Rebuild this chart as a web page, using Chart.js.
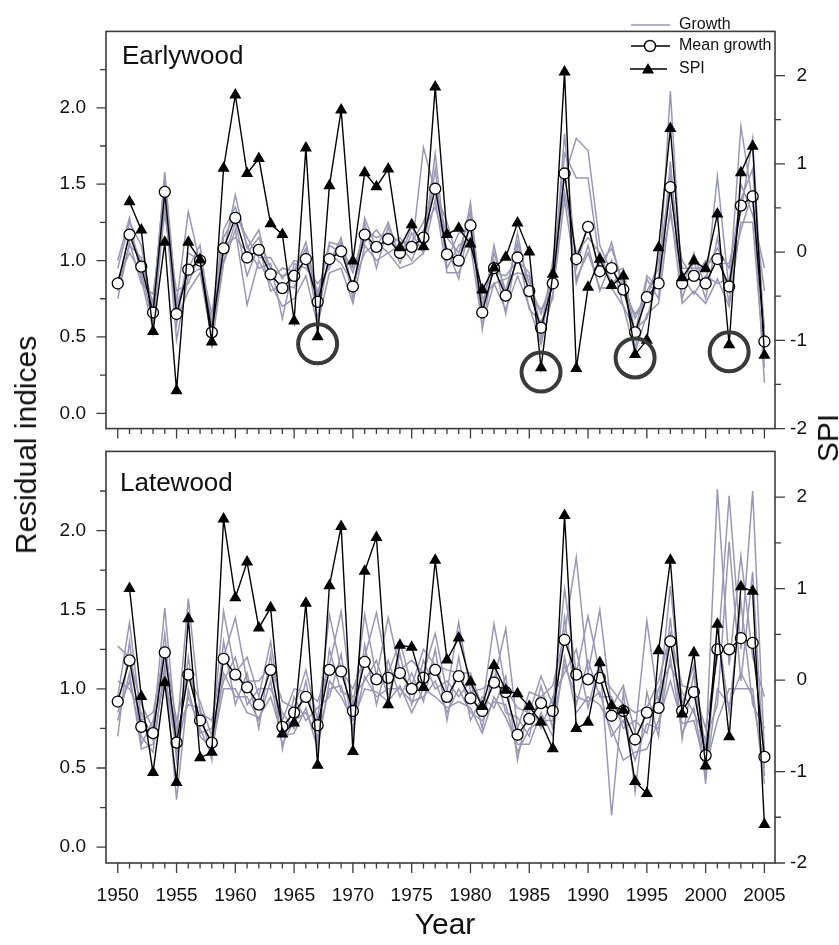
<!DOCTYPE html>
<html>
<head>
<meta charset="utf-8">
<script src="https://cdn.jsdelivr.net/npm/chart.js@4.4.1/dist/chart.umd.min.js"></script>
<style>
  body { margin: 0; background: #fff; }
  #wrap { position: relative; width: 839px; height: 945px; overflow: hidden;
          font-family: 'Liberation Sans', Arial, sans-serif; color: #111; }
  canvas { position: absolute; left: 0; }
  #ewCanvas { top: 0; z-index: 2; }
  #lwCanvas { top: 420px; z-index: 1; }
  .lbl { position: absolute; font-size: 30px; line-height: 30px; white-space: nowrap; z-index: 3; }
  #yTitle { left: 26px; top: 445px; transform: translate(-50%, -50%) rotate(-90deg); }
  #spiTitle { left: 828px; top: 438px; transform: translate(-50%, -50%) rotate(-90deg); }
  #xTitle { left: 345px; width: 200px; text-align: center; top: 909px; }
</style>
</head>
<body>
<div id="wrap">
  <canvas id="lwCanvas" width="839" height="525"></canvas>
  <canvas id="ewCanvas" width="839" height="460"></canvas>
  <div class="lbl" id="yTitle">Residual indices</div>
  <div class="lbl" id="spiTitle">SPI</div>
  <div class="lbl" id="xTitle">Year</div>
</div>
<script>
// years and axis ticks
var years = [1950,1951,1952,1953,1954,1955,1956,1957,1958,1959,
             1960,1961,1962,1963,1964,1965,1966,1967,1968,1969,
             1970,1971,1972,1973,1974,1975,1976,1977,1978,1979,
             1980,1981,1982,1983,1984,1985,1986,1987,1988,1989,
             1990,1991,1992,1993,1994,1995,1996,1997,1998,1999,
             2000,2001,2002,2003,2004,2005];
var yearLabels = [1950,1955,1960,1965,1970,1975,1980,1985,1990,1995,2000,2005];
var residualTicks = [0, 0.5, 1, 1.5, 2];
var residualMinor = [0,0.25,0.5,0.75,1,1.25,1.5,1.75,2,2.25];
var spiTicks = [-2, -1, 0, 1, 2];
var spiMinor = [-2,-1.5,-1,-0.5,0,0.5,1,1.5,2];

// Earlywood
var ewMean = [0.85,1.17,0.96,0.66,1.45,0.65,0.94,1.00,0.53,1.08,
              1.28,1.02,1.07,0.91,0.82,0.90,1.01,0.73,1.01,1.06,
              0.83,1.17,1.09,1.14,1.05,1.09,1.15,1.47,1.04,1.00,
              1.23,0.66,0.95,0.77,1.02,0.80,0.56,0.85,1.57,1.01,
              1.22,0.93,0.95,0.81,0.53,0.76,0.85,1.48,0.85,0.90,
              0.85,1.01,0.83,1.36,1.42,0.47];
var ewSpi = [null,0.57,0.25,-0.90,0.11,-1.57,0.11,-0.09,-1.02,0.95,
             1.78,0.89,1.06,0.32,0.20,-0.78,1.18,-0.96,0.75,1.61,
             -0.10,0.90,0.74,0.94,0.05,0.31,0.06,1.87,0.20,0.27,
             0.09,-0.43,-0.18,-0.06,0.33,0.00,-1.31,-0.25,2.04,-1.32,
             -0.40,-0.08,-0.38,-0.27,-1.16,-1.00,0.05,1.40,-0.29,-0.10,
             -0.19,0.43,-1.05,0.90,1.20,-1.17];
var ewTree1 = [0.75,1.12,0.85,0.78,1.30,0.80,0.85,1.05,0.45,0.98,
               1.20,0.71,1.00,0.85,0.70,0.75,0.90,0.58,0.92,0.95,
               0.72,1.10,1.00,1.05,0.95,0.98,1.05,1.40,0.92,0.92,
               1.10,0.58,0.85,0.68,0.90,0.70,0.45,0.78,1.40,0.88,
               1.05,0.82,0.82,0.70,0.40,0.65,0.72,1.35,0.72,0.80,
               0.72,0.88,0.70,1.25,1.25,0.30];
var ewTree2 = [0.82,1.10,1.02,0.68,1.58,0.72,1.32,0.98,0.60,1.05,
               1.43,1.08,1.20,0.88,0.95,0.93,1.12,0.78,1.10,1.05,
               0.95,1.12,1.20,1.10,1.15,1.05,1.74,1.45,1.25,0.98,
               1.38,0.65,1.10,0.75,1.18,0.78,0.68,0.82,1.83,0.95,
               1.25,0.90,1.12,0.80,0.65,0.75,1.00,1.45,1.00,0.88,
               1.00,0.98,0.98,1.32,1.80,0.45];
var ewTree3 = [0.88,1.05,0.92,0.60,1.40,0.48,0.90,0.95,0.50,1.00,
               1.25,0.90,1.10,0.80,0.85,0.82,1.05,0.62,1.05,0.98,
               0.85,1.05,1.12,1.05,1.10,1.00,1.20,1.35,1.08,0.88,
               1.28,0.55,1.00,0.65,1.08,0.68,0.60,0.75,1.60,0.85,
               1.10,0.80,1.00,0.70,0.55,0.62,0.90,1.30,0.90,0.78,
               0.90,0.85,0.88,1.20,1.45,0.20];
var ewTree4 = [0.95,1.25,1.10,0.65,1.50,0.58,1.05,1.00,0.65,1.20,
               1.35,1.10,0.95,0.98,0.62,0.98,0.95,0.85,0.95,1.12,
               0.75,1.25,0.95,1.22,0.98,1.18,1.05,1.60,0.95,1.10,
               1.15,0.75,0.85,0.88,0.92,0.90,0.48,0.95,1.45,1.05,
               1.15,1.05,0.85,0.92,0.42,0.88,0.75,1.65,0.75,1.00,
               0.75,1.15,0.72,1.50,1.30,0.95];
var ewTree5 = [1.00,1.28,0.88,0.55,1.35,0.62,0.80,0.92,0.48,1.10,
               1.15,1.05,1.15,0.95,0.90,0.92,1.08,0.75,1.12,1.10,
               0.92,1.20,1.15,1.18,1.12,1.12,1.25,1.50,1.15,1.05,
               1.32,0.70,1.05,0.80,1.12,0.85,0.65,0.90,1.70,1.54,
               1.54,0.98,1.08,0.85,0.62,0.80,0.95,1.55,0.95,0.95,
               0.95,1.08,0.95,1.40,1.60,0.55];
var ewTree6 = [0.80,1.20,0.98,0.72,1.55,0.70,0.95,1.10,0.55,1.15,
               1.30,1.15,1.02,1.02,0.88,1.00,0.98,0.80,0.98,1.15,
               0.80,1.28,1.08,1.25,1.02,1.22,1.10,1.70,1.00,1.18,
               1.20,0.78,0.92,0.90,1.00,0.92,0.55,1.00,1.55,1.80,
               1.72,1.10,0.92,0.95,0.52,0.90,0.82,2.11,0.82,1.05,
               0.82,1.55,0.80,1.88,1.38,0.80];
// drought years ringed in the earlywood panel
var droughtYears = [1967, 1986, 1994, 2002];
var droughtSpi = [-1.04, -1.36, -1.20, -1.13];

// Latewood
var lwMean = [0.92,1.18,0.76,0.72,1.23,0.66,1.09,0.80,0.66,1.19,
              1.09,1.01,0.90,1.12,0.76,0.85,0.95,0.77,1.12,1.11,
              0.86,1.17,1.06,1.07,1.10,1.00,1.07,1.12,0.95,1.08,
              0.94,0.86,1.04,0.98,0.71,0.81,0.91,0.86,1.31,1.09,
              1.06,1.07,0.83,0.86,0.68,0.85,0.88,1.30,0.86,0.98,
              0.58,1.25,1.25,1.32,1.29,0.57];
var lwSpi = [null,1.00,-0.18,-1.01,-0.03,-1.12,0.67,-0.85,-0.79,1.76,
             0.90,1.29,0.57,0.79,-0.59,-0.47,0.84,-0.93,1.03,1.68,
             -0.78,1.19,1.56,-0.27,0.38,0.36,-0.08,1.31,0.22,0.46,
             -0.02,-0.29,0.16,-0.11,-0.15,-0.29,-0.46,-0.75,1.80,-0.53,
             -0.46,0.19,-0.28,-0.33,-1.11,-1.24,0.32,1.31,-0.37,0.30,
             -0.94,0.61,-0.62,1.02,0.97,-1.58];
var lwTree1 = [0.70,1.30,0.65,0.80,1.05,0.75,0.90,0.88,0.55,1.30,
               0.90,1.10,0.75,1.22,0.62,0.95,0.80,0.88,0.95,1.22,
               0.72,1.28,0.90,1.18,0.95,1.10,0.92,1.25,0.80,1.20,
               0.80,0.95,0.88,1.08,0.55,0.92,0.75,0.95,1.10,1.25,
               0.88,1.18,0.20,0.98,0.35,0.98,0.70,1.45,0.68,1.10,
               0.40,1.40,0.85,1.55,0.90,0.75];
var lwTree2 = [1.27,1.20,0.90,0.75,1.51,0.70,1.57,0.85,0.80,1.20,
               1.45,1.05,1.05,1.15,0.92,0.88,1.12,0.80,1.47,1.12,
               1.00,1.20,1.48,1.10,1.30,1.02,1.25,1.15,1.12,1.10,
               1.10,0.88,1.41,1.00,0.88,0.85,1.08,0.90,1.63,1.10,
               1.46,1.10,1.00,0.90,0.85,0.88,1.05,1.35,1.02,1.00,
               0.75,1.20,2.22,1.25,2.25,0.60];
var lwTree3 = [0.85,1.05,0.70,0.60,1.15,0.30,1.00,0.70,0.62,1.00,
               1.00,0.85,0.82,0.95,0.70,0.72,0.88,0.62,1.05,0.95,
               0.80,1.00,0.98,0.92,1.02,0.85,1.00,0.95,0.88,0.92,
               0.88,0.72,0.95,0.82,0.65,0.65,0.85,0.70,1.20,0.85,
               0.95,0.90,0.75,0.55,0.60,0.62,0.80,1.05,0.78,0.80,
               0.50,0.80,1.00,1.00,1.00,0.40];
var lwTree4 = [1.05,1.00,0.85,0.68,1.35,0.55,1.20,0.72,0.75,1.05,
               1.20,0.90,1.00,1.00,0.85,0.75,1.05,0.65,1.25,0.98,
               0.95,1.05,1.18,0.95,1.22,0.90,1.18,1.00,1.05,0.95,
               1.05,0.75,1.15,0.85,0.82,0.70,1.02,0.75,1.45,0.90,
               1.18,0.95,0.95,0.75,0.80,0.72,1.00,1.15,0.98,0.85,
               0.68,0.90,1.93,1.05,1.74,0.45];
var lwTree5 = [0.80,1.10,0.62,0.65,1.10,0.60,0.95,0.75,0.58,1.10,
               0.95,0.95,0.80,1.05,0.65,0.80,0.85,0.70,1.00,1.02,
               0.75,1.08,0.95,1.00,1.00,0.92,0.95,1.05,0.85,1.00,
               0.85,0.80,0.92,0.90,0.60,0.75,0.80,0.80,1.15,0.95,
               0.92,0.98,0.70,0.80,0.55,0.78,0.75,1.20,0.72,0.88,
               0.45,1.00,0.90,1.10,0.95,0.50];
var lwTree6 = [0.95,1.42,0.80,0.85,1.25,0.80,1.10,0.92,0.70,1.49,
               1.10,1.20,0.95,1.30,0.80,1.00,0.98,0.92,1.15,1.49,
               0.88,1.47,1.08,1.45,1.12,1.18,1.10,1.35,0.98,1.42,
               0.98,1.00,1.05,1.38,0.75,0.98,0.95,1.02,1.35,1.83,
               1.10,1.50,0.88,1.02,0.72,1.43,0.90,1.65,0.90,1.15,
               0.60,2.26,1.15,1.84,1.20,0.95];

var FONT = "'Liberation Sans', Arial, sans-serif";
var GREY = 'rgb(152,152,180)';
var AXIS = '#3c3c3c';
Chart.defaults.font.family = FONT;
Chart.defaults.color = '#111';

function pts(xs, vals) {
  return xs.map(function (x, i) { return { x: x, y: vals[i] }; });
}

function drawTriangle(ctx, x, y, r) {
  ctx.beginPath();
  for (var k = 0; k < 3; k++) {
    var a = k * 2 * Math.PI / 3;
    var px = x + Math.sin(a) * r, py = y - Math.cos(a) * r;
    if (k === 0) ctx.moveTo(px, py); else ctx.lineTo(px, py);
  }
  ctx.closePath();
  ctx.fill();
}

// frame, tick marks, panel label (and legend on the top panel)
function panelDecor(label, dx, dy, withLegend) {
  return {
    id: 'panelDecor',
    afterDraw: function (chart) {
      var ctx = chart.ctx, a = chart.chartArea;
      var sx = chart.scales.x, sy = chart.scales.y, ss = chart.scales.spi;
      ctx.save();
      ctx.strokeStyle = AXIS;
      ctx.lineWidth = 1.6;
      ctx.strokeRect(a.left, a.top, a.right - a.left, a.bottom - a.top);

      ctx.lineWidth = 1.3;
      ctx.beginPath();
      years.forEach(function (v) {
        var p = sx.getPixelForValue(v);
        ctx.moveTo(p, a.bottom);
        ctx.lineTo(p, a.bottom + (v % 5 === 0 ? 10 : 5.5));
      });
      residualMinor.forEach(function (v) {
        var p = sy.getPixelForValue(v);
        ctx.moveTo(a.left, p);
        ctx.lineTo(a.left - (Math.abs(v * 2 - Math.round(v * 2)) < 1e-6 ? 9.5 : 6), p);
      });
      spiMinor.forEach(function (v) {
        var p = ss.getPixelForValue(v);
        ctx.moveTo(a.right, p);
        ctx.lineTo(a.right + (v === Math.round(v) ? 10 : 6), p);
      });
      ctx.stroke();

      ctx.fillStyle = '#111';
      ctx.font = '26px ' + FONT;
      ctx.textBaseline = 'alphabetic';
      ctx.textAlign = 'left';
      ctx.fillText(label, a.left + dx, a.top + dy);

      if (withLegend) {
        ctx.font = '16px ' + FONT;
        ctx.textBaseline = 'middle';
        ctx.strokeStyle = GREY;
        ctx.lineWidth = 1.5;
        ctx.beginPath(); ctx.moveTo(631, 25); ctx.lineTo(670, 25); ctx.stroke();
        ctx.fillText('Growth', 679, 25);

        ctx.strokeStyle = '#000';
        ctx.lineWidth = 1.4;
        ctx.beginPath(); ctx.moveTo(631, 46); ctx.lineTo(670, 46); ctx.stroke();
        ctx.beginPath(); ctx.arc(650, 46, 5.5, 0, 2 * Math.PI);
        ctx.fillStyle = '#fff'; ctx.fill(); ctx.stroke();
        ctx.fillStyle = '#111';
        ctx.fillText('Mean growth', 679, 46);

        ctx.beginPath(); ctx.moveTo(630, 69); ctx.lineTo(667, 69); ctx.stroke();
        ctx.fillStyle = '#000';
        drawTriangle(ctx, 648, 70, 7);
        ctx.fillStyle = '#111';
        ctx.fillText('SPI', 679, 69);
      }
      ctx.restore();
    }
  };
}

function makePanel(canvasId, p) {
  var datasets = [];
  p.trees.forEach(function (t) {
    datasets.push({
      data: pts(years, t), yAxisID: 'y', borderColor: GREY, borderWidth: 1.5,
      pointRadius: 0, tension: 0, order: 3
    });
  });
  datasets.push({
    data: pts(years, p.mean), yAxisID: 'y', borderColor: '#000', borderWidth: 1.4,
    pointStyle: 'circle', pointRadius: 5.5, pointBackgroundColor: '#fff',
    pointBorderColor: '#000', pointBorderWidth: 1.3, tension: 0, order: 2
  });
  datasets.push({
    data: pts(years, p.spi), yAxisID: 'spi', borderColor: '#000', borderWidth: 1.4,
    pointStyle: 'triangle', pointRadius: 7, pointBackgroundColor: '#000',
    pointBorderColor: '#000', pointBorderWidth: 0, tension: 0, order: 1
  });
  if (p.rings) {
    datasets.push({
      data: pts(p.rings.x, p.rings.y), yAxisID: 'spi', showLine: false,
      pointStyle: 'circle', pointRadius: 19.5, pointBackgroundColor: 'rgba(0,0,0,0)',
      pointBorderColor: '#3a3a3a', pointBorderWidth: 4, order: 0
    });
  }

  var tickFont = { size: 19, family: FONT };
  return new Chart(document.getElementById(canvasId).getContext('2d'), {
    type: 'line',
    data: { datasets: datasets },
    options: {
      responsive: false,
      animation: false,
      events: [],
      layout: { padding: { top: p.padTop, right: 32, left: 0, bottom: 0 } },
      plugins: { legend: { display: false }, tooltip: { enabled: false } },
      scales: {
        x: {
          type: 'linear', min: 1949, max: 2005.9,
          grid: { display: false, drawTicks: false }, border: { display: false },
          ticks: { display: p.showYears, font: tickFont, color: '#111', padding: 21,
                   autoSkip: false, maxRotation: 0,
                   callback: function (v) { return String(v); } },
          afterBuildTicks: function (s) { s.ticks = yearLabels.map(function (v) { return { value: v }; }); },
          afterFit: function (s) { s.height = p.xHeight; }
        },
        y: {
          position: 'left', min: -0.1, max: 2.5,
          grid: { display: false, drawTicks: false }, border: { display: false },
          ticks: { font: tickFont, color: '#111', padding: 20,
                   callback: function (v) { return v.toFixed(1); } },
          afterBuildTicks: function (s) { s.ticks = residualTicks.map(function (v) { return { value: v }; }); },
          afterFit: function (s) { s.width = 106; }
        },
        spi: {
          position: 'right', min: -2, max: 2.5,
          grid: { display: false, drawTicks: false }, border: { display: false },
          ticks: { font: tickFont, color: '#111', crossAlign: 'far',
                   callback: function (v) { return String(v); } },
          afterBuildTicks: function (s) { s.ticks = spiTicks.map(function (v) { return { value: v }; }); },
          afterFit: function (s) { s.width = 32; }
        }
      }
    },
    plugins: [panelDecor(p.label, p.labelDx, p.labelDy, p.legend)]
  });
}

makePanel('lwCanvas', {
  trees: [lwTree1, lwTree2, lwTree3, lwTree4, lwTree5, lwTree6],
  mean: lwMean, spi: lwSpi, rings: null,
  padTop: 20, xHeight: 82, showYears: true,
  label: 'Latewood', labelDx: 14, labelDy: 40, legend: false
});

makePanel('ewCanvas', {
  trees: [ewTree1, ewTree2, ewTree3, ewTree4, ewTree5, ewTree6],
  mean: ewMean, spi: ewSpi, rings: { x: droughtYears, y: droughtSpi },
  padTop: 16, xHeight: 20, showYears: false,
  label: 'Earlywood', labelDx: 16, labelDy: 33, legend: true
});
</script>
</body>
</html>
